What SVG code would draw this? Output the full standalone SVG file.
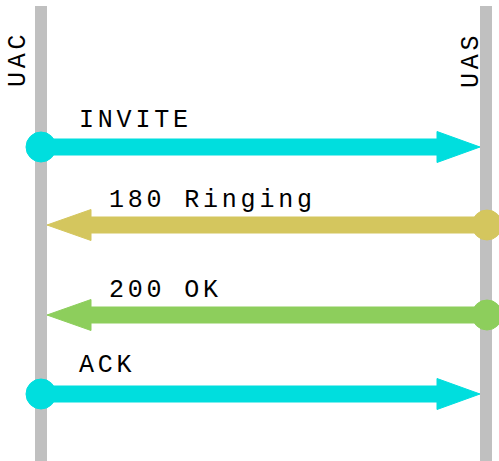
<svg xmlns="http://www.w3.org/2000/svg" width="499" height="461" viewBox="0 0 499 461">
  <style>
    .lifeline { stroke: #c0c0c0; stroke-width: 12; }
    .label { font-family: "Liberation Mono", "Courier New", monospace; font-size: 25px; letter-spacing: 3.8px; fill: #000; }
    .cyan { fill: #00dede; stroke: #00dede; }
    .yellow { fill: #d4c65e; stroke: #d4c65e; }
    .green { fill: #8dce5c; stroke: #8dce5c; }
    .shaft { stroke-width: 17; fill: none; }
  </style>

  <g id="uac">
    <line class="lifeline" x1="41" y1="6" x2="41" y2="461"/>
    <text class="label" transform="translate(25,87) rotate(-90)">UAC</text>
  </g>
  <g id="uas">
    <line class="lifeline" x1="486" y1="6" x2="486" y2="461"/>
    <text class="label" transform="translate(478,88) rotate(-90)">UAS</text>
  </g>

  <g id="connectors">
    <!-- INVITE: UAC -> UAS -->
    <g id="invite">
      <circle class="cyan" cx="41" cy="147" r="15" stroke="none"/>
      <line class="cyan shaft" x1="41" y1="147" x2="438" y2="147"/>
      <polygon class="cyan" stroke="none" points="437,131.5 480,147 437,162.5"/>
      <text class="label" x="79" y="127">INVITE</text>
    </g>
    <!-- 180 Ringing: UAS -> UAC -->
    <g id="ringing">
      <circle class="yellow" cx="487" cy="225" r="15" stroke="none"/>
      <line class="yellow shaft" x1="487" y1="225" x2="90" y2="225"/>
      <polygon class="yellow" stroke="none" points="91,209.5 47,225 91,240.5"/>
      <text class="label" x="109" y="207">180 Ringing</text>
    </g>
    <!-- 200 OK: UAS -> UAC -->
    <g id="ok">
      <circle class="green" cx="487" cy="315" r="15" stroke="none"/>
      <line class="green shaft" x1="487" y1="315" x2="90" y2="315"/>
      <polygon class="green" stroke="none" points="91,299.5 47,315 91,330.5"/>
      <text class="label" x="109" y="297">200 OK</text>
    </g>
    <!-- ACK: UAC -> UAS -->
    <g id="ack">
      <circle class="cyan" cx="41" cy="394" r="15" stroke="none"/>
      <line class="cyan shaft" x1="41" y1="394" x2="438" y2="394"/>
      <polygon class="cyan" stroke="none" points="437,378.5 480,394 437,409.5"/>
      <text class="label" x="79" y="372">ACK</text>
    </g>
  </g>
</svg>
